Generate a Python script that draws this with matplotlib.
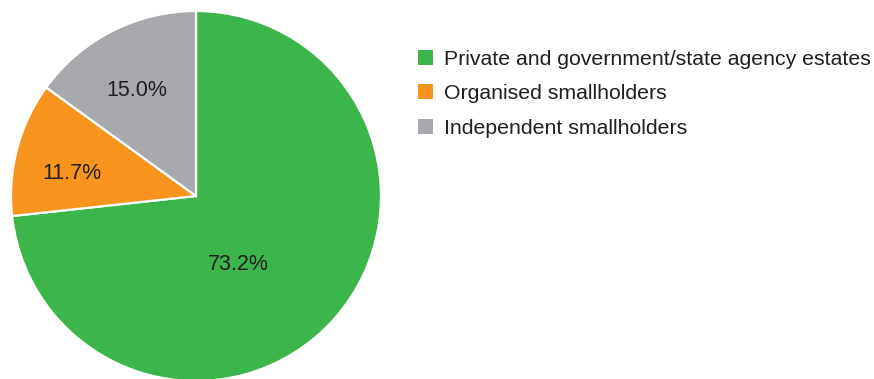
import matplotlib.pyplot as plt

# datos del gráfico
categorias = ["Private and government/state agency estates",
              "Organised smallholders",
              "Independent smallholders"]
porcentajes = [73.2, 11.7, 15.0]
colores = ["#3cb54a", "#f7941d", "#a7a9ac"]

plt.rcParams['font.family'] = ['Liberation Sans', 'DejaVu Sans']

fig = plt.figure(figsize=(8.74, 3.79), dpi=100)
W, H = 874, 379
cx, cy, r = 196, 196, 185
ax = fig.add_axes([(cx - r) / W, (H - cy - r) / H, 2 * r / W, 2 * r / H])

wedges, textos = ax.pie(
    porcentajes, colors=colores, startangle=90, counterclock=False,
    radius=1, wedgeprops=dict(edgecolor='white', linewidth=1.6))
ax.set_xlim(-1, 1)
ax.set_ylim(-1, 1)
ax.set_aspect('auto')
ax.axis('off')

# posiciones de las etiquetas dentro del círculo (como en el original)
pos_etiquetas = [(0.23, -0.37), (-0.67, 0.12), (-0.319, 0.572)]
for v, (x, y) in zip(porcentajes, pos_etiquetas):
    ax.text(x, y, f'{v:.1f}%', ha='center', va='center',
            color='#231f20', fontsize=15.5)

leg = fig.legend(wedges, categorias, loc='upper left',
                 bbox_to_anchor=(409 / W, 1 - 41 / H), frameon=False,
                 fontsize=15.3, handlelength=0.72, handleheight=0.72,
                 handletextpad=0.55, labelspacing=0.74, borderaxespad=0)
for t in leg.get_texts():
    t.set_color('#231f20')
for h in leg.legend_handles:
    h.set_edgecolor('none')

fig.savefig('out.png', dpi=100)
